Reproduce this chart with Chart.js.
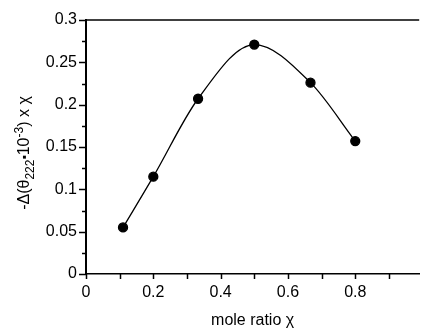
<!DOCTYPE html>
<html>
<head>
<meta charset="utf-8">
<script src="https://cdn.jsdelivr.net/npm/chart.js@4/dist/chart.umd.min.js"></script>
<style>
  html, body { margin: 0; padding: 0; background: #fff; }
  #wrap { width: 425px; height: 331px; }
</style>
</head>
<body>
<div id="wrap"><canvas id="chart"></canvas></div>
<script>
// data
const moleRatio = [0.11, 0.2, 0.333, 0.5, 0.667, 0.8];
const deltaTheta = [0.055, 0.115, 0.207, 0.271, 0.226, 0.157];
const xTickValues = [0, 0.2, 0.4, 0.6, 0.8];
const yTickValues = [0, 0.05, 0.1, 0.15, 0.2, 0.25, 0.3];

const FONT = "'Liberation Sans', Arial, sans-serif";

// axis decorations: minor ticks, top frame line, axis titles
const decorations = {
  id: "decorations",
  afterDraw(chart) {
    const ctx = chart.ctx;
    const area = chart.chartArea;
    const xs = chart.scales.x;
    const ys = chart.scales.y;
    ctx.save();
    ctx.strokeStyle = "#000";
    ctx.lineWidth = 1.5;

    // y ticks, major every 0.05, minor in between
    for (let i = 0; i <= 12; i++) {
      const py = Math.round(ys.getPixelForValue(i * 0.025)) + 0.5;
      const len = i % 2 === 0 ? 7 : 4;
      ctx.beginPath();
      ctx.moveTo(area.left - len, py);
      ctx.lineTo(area.left, py);
      ctx.stroke();
    }
    // x ticks every 0.1
    for (let i = 0; i <= 9; i++) {
      const px = Math.round(xs.getPixelForValue(i * 0.1)) + 0.5;
      ctx.beginPath();
      ctx.moveTo(px, area.bottom);
      ctx.lineTo(px, area.bottom + 5);
      ctx.stroke();
    }
    // top frame line
    ctx.beginPath();
    ctx.moveTo(area.left, area.top);
    ctx.lineTo(area.right, area.top);
    ctx.stroke();

    // x title
    ctx.fillStyle = "#000";
    ctx.font = "16px " + FONT;
    ctx.textAlign = "center";
    ctx.textBaseline = "middle";
    ctx.fillText("mole ratio \u03c7", (area.left + area.right) / 2, 321);

    // y title with sub/superscripts
    const parts = [
      { t: "-\u0394(\u03b8", size: 16, dy: 0 },
      { t: "222", size: 12, dy: 5 },
      { t: "\u25aa", size: 12, dy: -1 },
      { t: "10", size: 16, dy: 0 },
      { t: "-3", size: 12, dy: -6 },
      { t: ") x \u03c7", size: 16, dy: 0 },
    ];
    let total = 0;
    parts.forEach((p) => {
      ctx.font = p.size + "px " + FONT;
      p.w = ctx.measureText(p.t).width;
      total += p.w;
    });
    ctx.translate(23, 153);
    ctx.rotate(-Math.PI / 2);
    ctx.textAlign = "left";
    ctx.textBaseline = "alphabetic";
    let cx = -total / 2;
    parts.forEach((p) => {
      ctx.font = p.size + "px " + FONT;
      ctx.fillText(p.t, cx, 6 + p.dy);
      cx += p.w;
    });
    ctx.restore();
  },
};

new Chart(document.getElementById("chart"), {
  type: "line",
  data: {
    datasets: [
      {
        data: moleRatio.map((x, i) => ({ x: x, y: deltaTheta[i] })),
        borderColor: "#000",
        backgroundColor: "#000",
        borderWidth: 1.3,
        pointRadius: 4.5,
        pointBackgroundColor: "#000",
        pointBorderColor: "#000",
        cubicInterpolationMode: "monotone",
        fill: false,
      },
    ],
  },
  options: {
    responsive: true,
    maintainAspectRatio: false,
    animation: false,
    layout: { padding: { top: 20, right: 0, left: 0, bottom: 0 } },
    plugins: {
      legend: { display: false },
      tooltip: { enabled: false },
    },
    scales: {
      x: {
        type: "linear",
        min: 0,
        max: 0.99,
        afterFit: (scale) => { scale.height = 57; },
        afterBuildTicks: (scale) => {
          scale.ticks = xTickValues.map((v) => ({ value: v }));
        },
        grid: { display: false, drawTicks: false },
        border: { display: true, color: "#000", width: 1.5 },
        ticks: {
          padding: 9,
          color: "#000",
          font: { family: FONT, size: 16 },
          maxRotation: 0,
          callback: (v) => String(Math.round(v * 10) / 10),
        },
      },
      y: {
        min: 0,
        max: 0.3,
        afterFit: (scale) => { scale.width = 86; },
        afterBuildTicks: (scale) => {
          scale.ticks = yTickValues.map((v) => ({ value: v }));
        },
        grid: { display: false, drawTicks: false },
        border: { display: true, color: "#000", width: 2 },
        ticks: {
          padding: 9,
          color: "#000",
          font: { family: FONT, size: 16 },
          callback: (v) => String(Math.round(v * 100) / 100),
        },
      },
    },
  },
  plugins: [decorations],
});
</script>
</body>
</html>
